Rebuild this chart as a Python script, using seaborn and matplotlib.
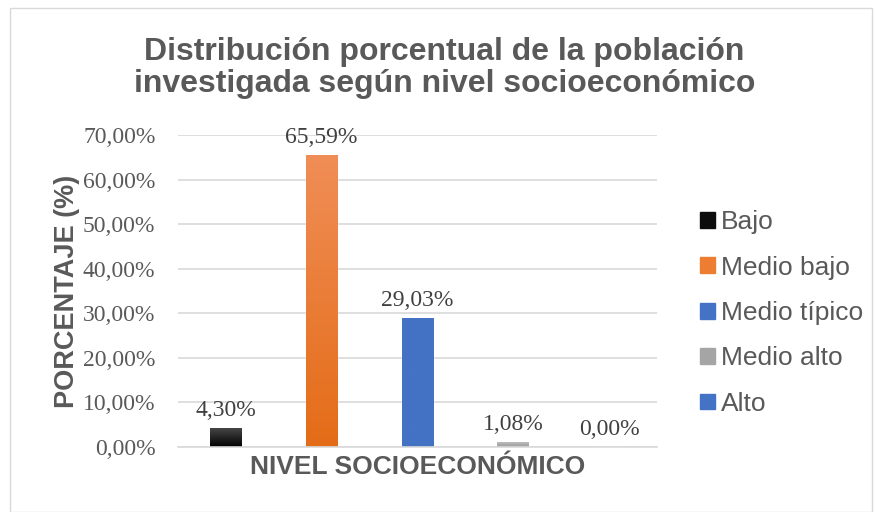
import pandas as pd
import numpy as np
import matplotlib
matplotlib.use('Agg')
import matplotlib.pyplot as plt
import seaborn as sns
from matplotlib.patches import Rectangle, Patch
from matplotlib.colors import LinearSegmentedColormap

sns.set_style('white')

categorias = ['Bajo', 'Medio bajo', 'Medio típico', 'Medio alto', 'Alto']
porcentajes = [4.30, 65.59, 29.03, 1.08, 0.00]
colores = ['#0d0d0d', '#ED7D31', '#4472C4', '#A5A5A5', '#4472C4']
# degradado (arriba, abajo) como en Excel
degradados = [('#4a4a4a', '#000000'), ('#F08E57', '#E46C17'),
              ('#4472C4', '#4472C4'), ('#BDBDBD', '#9A9A9A'), ('#4472C4', '#4472C4')]
ticks_y = [0, 10, 20, 30, 40, 50, 60, 70]

gris = '#595959'
sans = ['Liberation Sans', 'DejaVu Sans']
serif = ['Liberation Serif', 'DejaVu Serif']

df = pd.DataFrame({'nivel': categorias, 'pct': porcentajes})

fig = plt.figure(figsize=(8.75, 5.12), dpi=100)
ax = fig.add_axes([0.203, 0.127, 0.548, 0.609])

sns.barplot(data=df, x='nivel', y='pct', hue='nivel', palette=colores,
            width=0.33, legend=False, ax=ax, saturation=1)

# relleno en degradado vertical
for bar, (c_top, c_bot) in zip(ax.patches, degradados):
    h = bar.get_height()
    if h <= 0:
        continue
    x0 = bar.get_x()
    w = bar.get_width()
    cmap = LinearSegmentedColormap.from_list('g', [c_bot, c_top])
    grad = np.linspace(0, 1, 256).reshape(-1, 1)
    im = ax.imshow(grad, cmap=cmap, origin='lower', aspect='auto',
                   extent=(x0, x0 + w, 0, h), zorder=bar.get_zorder() + 0.1)
    im.set_clip_path(bar)

ax.set_ylim(0, 70)
ax.set_xlim(-0.5, 4.5)
ax.set_yticks(ticks_y)
ax.set_yticklabels([f'{t:.2f}'.replace('.', ',') + '%' for t in ticks_y],
                   fontfamily=serif, fontsize=17, color=gris)
ax.set_xticks([])
ax.grid(axis='y', color='#D9D9D9', linewidth=1.2)
ax.set_axisbelow(True)
for s in ['top', 'right', 'left']:
    ax.spines[s].set_visible(False)
ax.spines['bottom'].set_color('#D9D9D9')
ax.spines['bottom'].set_linewidth(1.2)
ax.tick_params(axis='y', length=0, pad=16)

for i, v in enumerate(porcentajes):
    ax.text(i, v + 1.6, f'{v:.2f}'.replace('.', ',') + '%', ha='center', va='bottom',
            fontfamily=serif, fontsize=17, color='#404040')

ax.set_xlabel('NIVEL SOCIOECONÓMICO', fontfamily=sans, fontsize=19,
              fontweight='bold', color=gris, labelpad=6)
ax.set_ylabel('PORCENTAJE (%)', fontfamily=sans, fontsize=19.5,
              fontweight='bold', color=gris, labelpad=2)

fig.text(0.508, 0.867, 'Distribución porcentual de la población\ninvestigada según nivel socioeconómico',
         ha='center', va='center', fontfamily=sans, fontsize=23,
         fontweight='bold', color=gris, linespacing=1.08)

handles = [Patch(facecolor=c, edgecolor=c) for c in colores]
fig.legend(handles, categorias, loc='upper left', bbox_to_anchor=(0.785, 0.615),
           frameon=False, prop={'family': sans, 'size': 19}, labelcolor=gris,
           handlelength=0.55, handleheight=0.55, handletextpad=0.25,
           labelspacing=0.81, borderpad=0)

fig.patches.append(Rectangle((0.011, 0.0), 0.985, 0.985, transform=fig.transFigure,
                             fill=False, edgecolor='#D9D9D9', linewidth=1))

fig.savefig('out.png', dpi=100)
